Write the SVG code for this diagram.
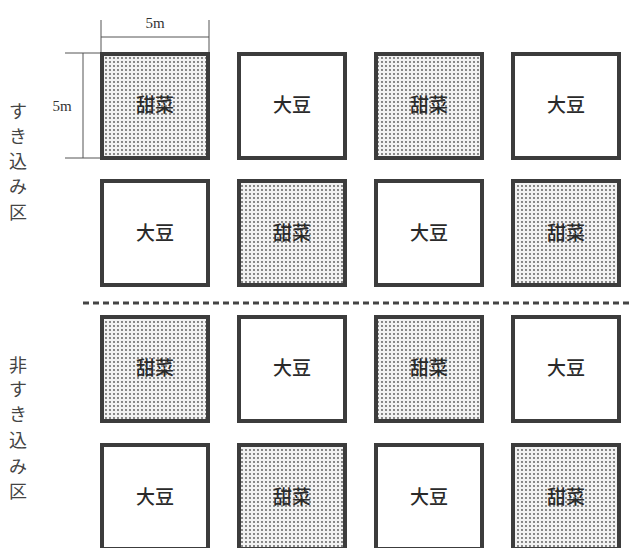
<svg xmlns="http://www.w3.org/2000/svg" width="629" height="548" viewBox="0 0 629 548">
<defs>
<pattern id="dots" width="4" height="4" patternUnits="userSpaceOnUse">
<rect width="4" height="4" fill="#f2f2f2"/>
<circle cx="2" cy="2" r="0.9" fill="#555555"/>
</pattern>
<style>
.plot{stroke:#3c3c3c;stroke-width:4}
.beet{fill:url(#dots)}
.soy{fill:#ffffff}
.lbl{font-family:"Noto Sans CJK JP","Noto Sans CJK SC",sans-serif;font-size:19px;font-weight:500;fill:#2a2a2a;text-anchor:middle}
.side{font-family:"Noto Sans CJK JP","Noto Sans CJK SC",sans-serif;font-size:18px;fill:#444;text-anchor:middle}
.dim{font-family:"Liberation Serif",serif;font-size:15px;fill:#333;text-anchor:middle}
.dl{stroke:#555;stroke-width:1;fill:none}
.sep{stroke:#444;stroke-width:3;stroke-dasharray:6,4}
</style>
</defs>
<rect width="629" height="548" fill="#ffffff"/>

<g id="dimensions">
<line class="dl" x1="101" y1="20" x2="101" y2="52"/>
<line class="dl" x1="209" y1="20" x2="209" y2="52"/>
<line class="dl" x1="101" y1="37" x2="209" y2="37"/>
<text class="dim" x="155" y="28">5m</text>
<line class="dl" x1="65" y1="53" x2="101" y2="53"/>
<line class="dl" x1="65" y1="158" x2="101" y2="158"/>
<line class="dl" x1="83" y1="53" x2="83" y2="158"/>
<text class="dim" x="62" y="111">5m</text>
</g>

<g id="label-sukikomi">
<text class="side" x="18" y="118">す</text>
<text class="side" x="18" y="143">き</text>
<text class="side" x="18" y="168">込</text>
<text class="side" x="18" y="193">み</text>
<text class="side" x="18" y="219">区</text>
</g>
<g id="label-hisukikomi">
<text class="side" x="18" y="372">非</text>
<text class="side" x="18" y="396">す</text>
<text class="side" x="18" y="421">き</text>
<text class="side" x="18" y="447">込</text>
<text class="side" x="18" y="473">み</text>
<text class="side" x="18" y="498">区</text>
</g>

<g id="separator">
<line class="sep" x1="83" y1="303" x2="629" y2="303"/>
</g>

<g id="r1c1"><rect class="plot beet" x="102" y="54" width="106" height="104"/><text class="lbl" x="155" y="112">甜菜</text></g>
<g id="r1c2"><rect class="plot soy" x="239" y="54" width="106" height="104"/><text class="lbl" x="292" y="112">大豆</text></g>
<g id="r1c3"><rect class="plot beet" x="376" y="54" width="106" height="104"/><text class="lbl" x="429" y="112">甜菜</text></g>
<g id="r1c4"><rect class="plot soy" x="513" y="54" width="106" height="104"/><text class="lbl" x="566" y="112">大豆</text></g>

<g id="r2c1"><rect class="plot soy" x="102" y="181" width="106" height="104"/><text class="lbl" x="155" y="240">大豆</text></g>
<g id="r2c2"><rect class="plot beet" x="239" y="181" width="106" height="104"/><text class="lbl" x="292" y="240">甜菜</text></g>
<g id="r2c3"><rect class="plot soy" x="376" y="181" width="106" height="104"/><text class="lbl" x="429" y="240">大豆</text></g>
<g id="r2c4"><rect class="plot beet" x="513" y="181" width="106" height="104"/><text class="lbl" x="566" y="240">甜菜</text></g>

<g id="r3c1"><rect class="plot beet" x="102" y="317" width="106" height="104"/><text class="lbl" x="155" y="375">甜菜</text></g>
<g id="r3c2"><rect class="plot soy" x="239" y="317" width="106" height="104"/><text class="lbl" x="292" y="375">大豆</text></g>
<g id="r3c3"><rect class="plot beet" x="376" y="317" width="106" height="104"/><text class="lbl" x="429" y="375">甜菜</text></g>
<g id="r3c4"><rect class="plot soy" x="513" y="317" width="106" height="104"/><text class="lbl" x="566" y="375">大豆</text></g>

<g id="r4c1"><rect class="plot soy" x="102" y="445" width="106" height="104"/><text class="lbl" x="155" y="504">大豆</text></g>
<g id="r4c2"><rect class="plot beet" x="239" y="445" width="106" height="104"/><text class="lbl" x="292" y="504">甜菜</text></g>
<g id="r4c3"><rect class="plot soy" x="376" y="445" width="106" height="104"/><text class="lbl" x="429" y="504">大豆</text></g>
<g id="r4c4"><rect class="plot beet" x="513" y="445" width="106" height="104"/><text class="lbl" x="566" y="504">甜菜</text></g>
</svg>
